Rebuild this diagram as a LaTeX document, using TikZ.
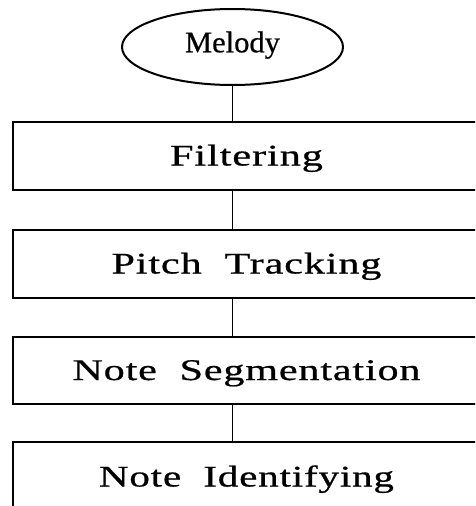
\documentclass[tikz,border=0pt]{standalone}
\usepackage{fontspec}
\usepackage{graphicx}
\setmainfont{Liberation Serif}
\newfontfamily\boxfont[LetterSpace=2,WordSpace=2,FakeBold=0.6]{Liberation Serif}
\newfontfamily\melfont[FakeBold=0.6]{Liberation Serif}
\newcommand{\stretchto}[2]{\resizebox{#1}{\height}{#2}}
\usetikzlibrary{shapes.geometric}
\begin{document}
\begin{tikzpicture}[x=1pt,y=-1pt,
  stage/.style={draw,line width=1.8pt,rectangle,minimum width=467pt,inner sep=0pt,
    font=\boxfont\fontsize{30}{34}\selectfont,text height=25pt,text depth=6pt},
  start/.style={draw,line width=2pt,ellipse,minimum width=221pt,minimum height=76pt,inner sep=0pt,
    font=\melfont\fontsize{30}{34}\selectfont,text height=19pt,text depth=8.4pt},
  link/.style={line width=1.6pt}]
\useasboundingbox (0,0) rectangle (475,506);
\clip (0,0) rectangle (475,506);
\node[start] (mel) at (232.5,47) {\stretchto{95pt}{Melody}};
\node[stage,minimum height=68pt] (filt) at (246.5,156) {\stretchto{153pt}{Filtering}};
\node[stage,minimum height=68pt] (pitch) at (246.5,264) {\stretchto{270pt}{Pitch Tracking}};
\node[stage,minimum height=67pt] (seg) at (246.5,370.5) {\stretchto{348pt}{Note Segmentation}};
\node[stage,minimum height=70pt] (ident) at (246.5,477) {\stretchto{295pt}{Note Identifying}};
\draw[link] (mel.south) -- (mel.south |- filt.north);
\draw[link] (filt.south -| mel.south) -- (pitch.north -| mel.south);
\draw[link] (pitch.south -| mel.south) -- (seg.north -| mel.south);
\draw[link] (seg.south -| mel.south) -- (ident.north -| mel.south);
\end{tikzpicture}
\end{document}
